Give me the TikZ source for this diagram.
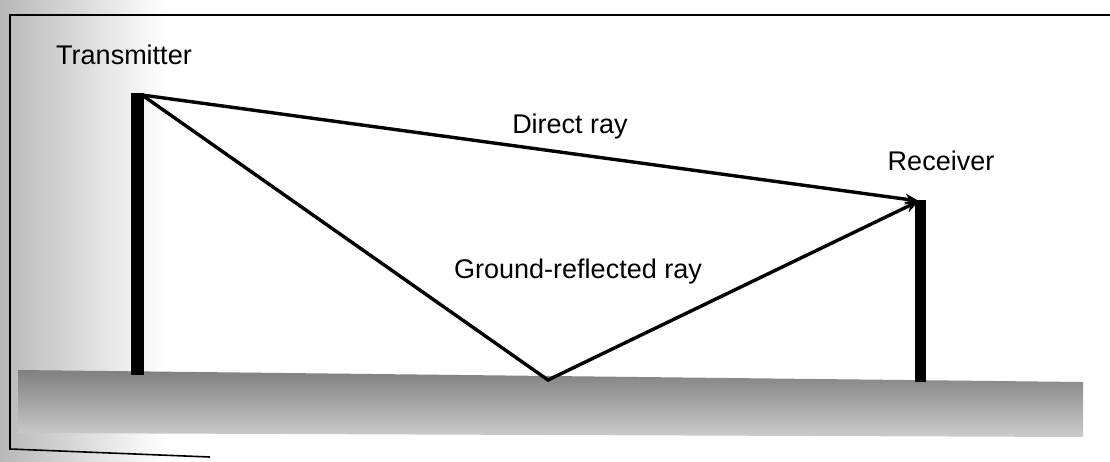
\documentclass[tikz,border=0pt]{standalone}
\usepackage{fontspec}
\setmainfont{Liberation Sans}
\usetikzlibrary{arrows.meta}
\begin{document}
\begin{tikzpicture}[x=1pt,y=-1pt,
  lbl/.style={font=\fontsize{27}{30}\selectfont, inner sep=0pt},
  ray/.style={line width=3.4pt, line join=miter},
  mast/.style={fill=black, draw=none},
  frameline/.style={line width=1.6pt, draw=black}]
\useasboundingbox (0,0) rectangle (1110,461);
% left grey panel
\shade[left color=black!28, right color=white] (0,0) rectangle (165,461);
\fill[white] (165,0) rectangle (1110,461);
% frame
\draw[frameline] (1110,15) -- (10,15) -- (10,449) -- (210,457);
% ground
\shade[top color=black!50, bottom color=black!20] (18,370) -- (1083,382) -- (1083,437) -- (18,433) -- cycle;
% masts
\fill[mast] (131,93) rectangle (144,375);
\fill[mast] (915,200) rectangle (926,382);
% ray end points
\coordinate (tx) at (142,95);
\coordinate (rx) at (919,201);
\coordinate (refl) at (548,380);
% rays
\draw[ray, -{Stealth[length=14pt,width=11pt]}] (tx) -- (rx);
\draw[ray, -{Stealth[length=14pt,width=11pt]}] (tx) -- (refl) -- (rx);
% labels
\node[lbl] (tlab) at (124,55) {Transmitter};
\node[lbl] (dlab) at (570,127) {Direct ray};
\node[lbl] (rlab) at (941,161) {Receiver};
\node[lbl] (glab) at (578,272) {Ground-reflected ray};
\end{tikzpicture}
\end{document}
